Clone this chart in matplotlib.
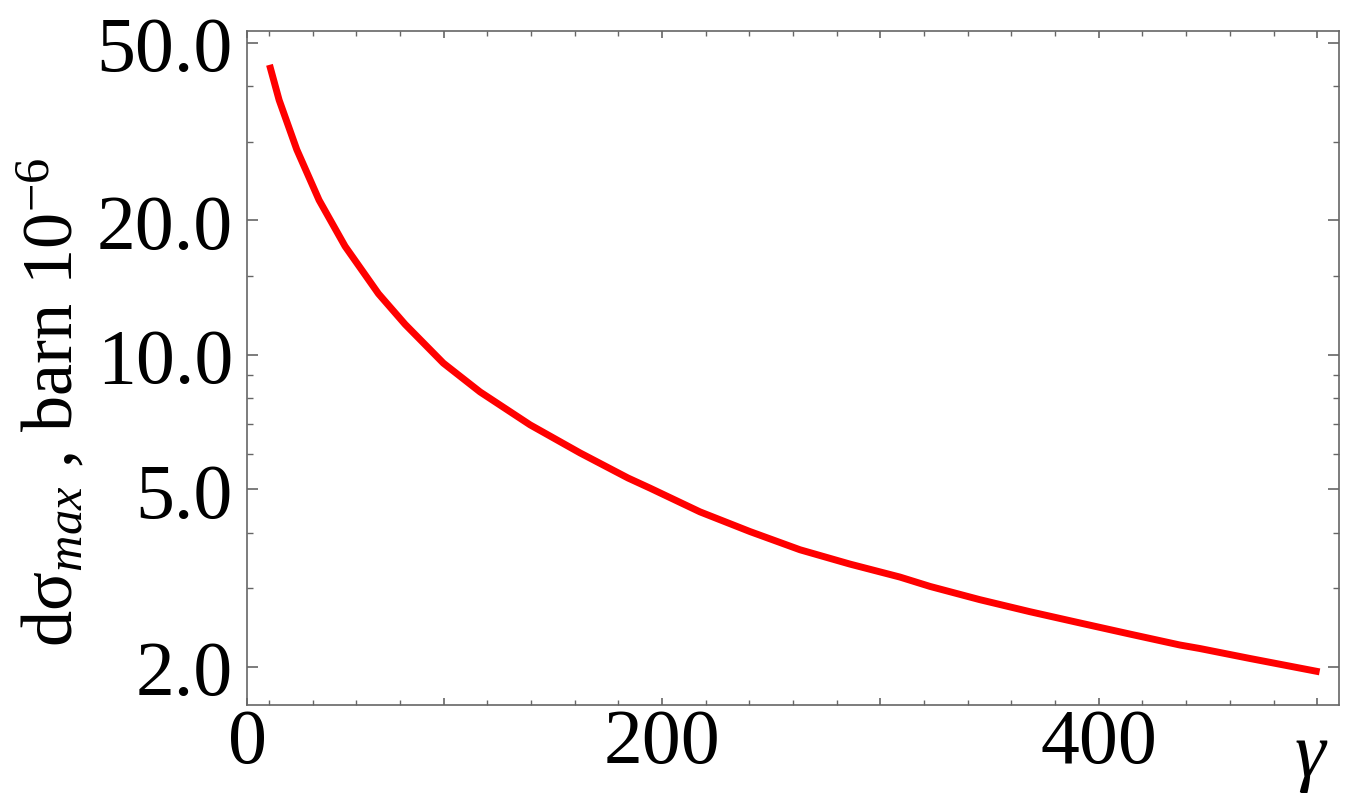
import matplotlib
matplotlib.use('Agg')
import matplotlib.pyplot as plt
from matplotlib.ticker import FixedLocator, NullFormatter

# values (gamma, d sigma_max in barn 1e-6)
gamma = [20.3, 24.7, 32.8, 43.0, 54.9, 70.2, 82.4, 99.9, 116.7, 139.6, 162.5, 184.4,
         194.5, 217.4, 240.3, 263.2, 286.0, 308.9, 322.7, 345.5, 368.4, 391.3, 414.2,
         437.1, 446.2, 469.1, 501.1]
dsigma = [44.6, 37.2, 28.8, 22.2, 17.5, 13.7, 11.7, 9.58, 8.26, 6.97, 6.03, 5.30,
          5.03, 4.45, 4.02, 3.66, 3.40, 3.18, 3.03, 2.83, 2.66, 2.51, 2.37,
          2.24, 2.20, 2.09, 1.95]

x_major = [10, 100, 200, 300, 400, 500]
x_labels = ['0', '', '200', '', '400', '']
y_major = [2, 5, 10, 20, 50]
y_labels = ['2.0', '5.0', '10.0', '20.0', '50.0']
y_minor = [3, 4, 6, 7, 8, 9, 15, 30, 40]

plt.rcParams['font.family'] = ['Liberation Serif', 'DejaVu Serif']
plt.rcParams['mathtext.fontset'] = 'custom'
plt.rcParams['mathtext.rm'] = 'Liberation Serif'
plt.rcParams['mathtext.it'] = 'Liberation Serif:italic'

fig = plt.figure(figsize=(13.7, 8.04), dpi=100)
ax = fig.add_axes([0.1803, 0.1219, 0.9774 - 0.1803, 0.9602 - 0.1219])

ax.plot(gamma, dsigma, color='#ff0000', lw=5, solid_capstyle='butt')

ax.set_yscale('log')
ax.set_xlim(10, 510)
ax.set_ylim(1.644, 53.1)

ax.set_xticks(x_major)
ax.set_xticklabels(x_labels)
ax.xaxis.set_minor_locator(FixedLocator([v for v in range(20, 510, 20) if v % 100 != 0]))
ax.set_yticks(y_major)
ax.set_yticklabels(y_labels)
ax.yaxis.set_minor_locator(FixedLocator(y_minor))
ax.yaxis.set_minor_formatter(NullFormatter())

gray = '#666666'
for s in ax.spines.values():
    s.set_color(gray)
    s.set_linewidth(1.2)

ax.tick_params(which='both', direction='in', top=True, right=True, color=gray,
               labelsize=56, labelcolor='black')
ax.tick_params(axis='y', which='major', length=8, width=1.2, pad=10)
ax.tick_params(axis='y', which='minor', length=4.3, width=1.0)
ax.tick_params(axis='x', which='major', length=5, width=1.2, pad=2)
ax.tick_params(axis='x', which='minor', length=3.6, width=1.0)

fig.text(0.038, 0.5, 'dσ$_{max}$ , barn 10$^{-6}$', rotation=90,
         ha='center', va='center', fontsize=52)
fig.text(0.956, 0.058, 'γ', style='italic', ha='center', va='center', fontsize=56)

fig.savefig('out.png', dpi=100)
